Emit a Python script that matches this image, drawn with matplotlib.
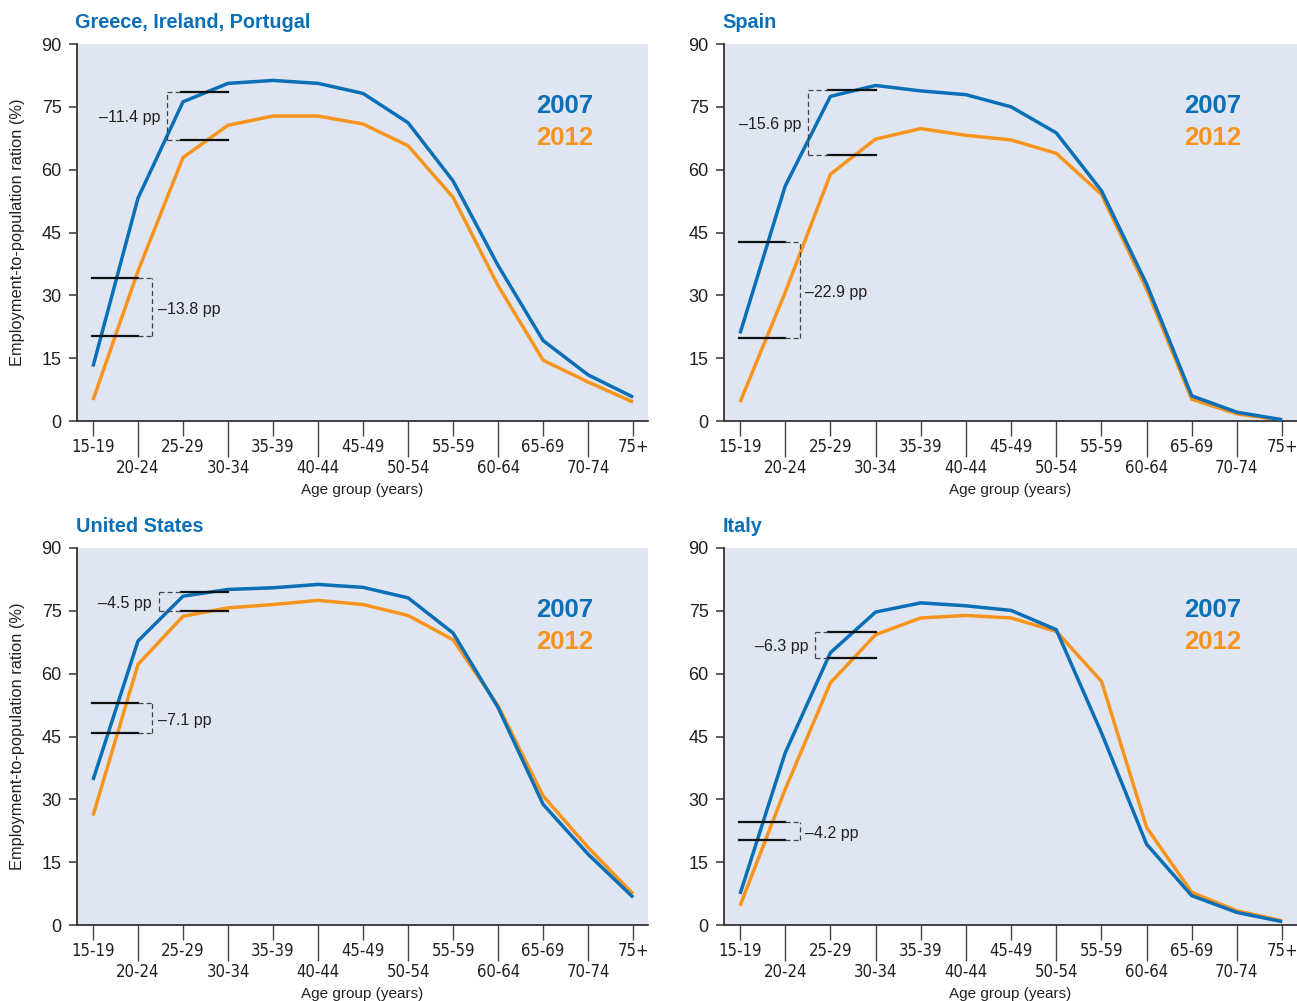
import matplotlib
matplotlib.use("Agg")
import matplotlib.pyplot as plt
from matplotlib import font_manager as fm

# ---------------- data ----------------
age_groups = ["15-19", "20-24", "25-29", "30-34", "35-39", "40-44", "45-49",
              "50-54", "55-59", "60-64", "65-69", "70-74", "75+"]

panel_titles = ["Greece, Ireland, Portugal", "Spain", "United States", "Italy"]

gip_2007 = [13.0, 53.2, 76.2, 80.6, 81.3, 80.6, 78.2, 71.2, 57.3, 37.1, 19.2, 11.0, 5.7]
gip_2012 = [5.0, 35.8, 62.9, 70.6, 72.8, 72.8, 70.9, 65.7, 53.4, 32.3, 14.5, 9.3, 4.5]

spain_2007 = [20.9, 56.1, 77.5, 80.1, 78.8, 77.9, 75.0, 68.8, 55.0, 32.7, 6.0, 2.1, 0.3]
spain_2012 = [4.5, 30.7, 58.9, 67.3, 69.8, 68.2, 67.1, 63.9, 54.1, 31.5, 5.2, 1.7, 0.2]

us_2007 = [34.6, 67.8, 78.5, 80.1, 80.5, 81.3, 80.6, 78.1, 69.7, 51.9, 28.8, 16.9, 6.6]
us_2012 = [26.1, 62.2, 73.7, 75.7, 76.5, 77.5, 76.5, 73.9, 68.1, 52.3, 30.8, 18.5, 7.4]

italy_2007 = [7.4, 41.1, 65.0, 74.7, 76.9, 76.2, 75.1, 70.5, 45.9, 19.3, 7.0, 3.0, 0.8]
italy_2012 = [4.6, 32.4, 57.8, 69.3, 73.3, 73.9, 73.3, 70.1, 58.2, 23.3, 7.8, 3.4, 1.0]

# youth (15-24) and prime-age (25-34) reference levels: [2007, 2012]
youth_levels = [[34.1, 20.3], [42.8, 19.9], [53.0, 45.9], [24.5, 20.3]]
youth_labels = ["\u201313.8 pp", "\u201322.9 pp", "\u20137.1 pp", "\u20134.2 pp"]
prime_levels = [[78.6, 67.2], [79.1, 63.5], [79.4, 74.9], [70.0, 63.7]]
prime_labels = ["\u201311.4 pp", "\u201315.6 pp", "\u20134.5 pp", "\u20136.3 pp"]

series_2007 = [gip_2007, spain_2007, us_2007, italy_2007]
series_2012 = [gip_2012, spain_2012, us_2012, italy_2012]
legend_labels = ["2007", "2012"]
y_ticks = [0, 15, 30, 45, 60, 75, 90]

# ---------------- style ----------------
BLUE = "#0a6fb6"
ORANGE = "#f7941d"
BG = "#dfe6f2"
TXT = "#231f20"

ttf = fm.fontManager.ttflist
names = {f.name for f in ttf}
REG = "Liberation Sans" if "Liberation Sans" in names else "DejaVu Sans"
if "Liberation Sans Narrow" in names:
    XT_FONT = dict(fontfamily="Liberation Sans Narrow", fontsize=12.4)
elif any(f.name == "DejaVu Sans" and str(f.stretch) in ("condensed", "semi-condensed")
         for f in ttf):
    XT_FONT = dict(fontfamily="DejaVu Sans", fontstretch="condensed", fontsize=12.0)
else:
    XT_FONT = dict(fontfamily=REG, fontsize=11)

W, H = 1297, 1001
fig = plt.figure(figsize=(W / 100, H / 100), dpi=100)
fig.patch.set_facecolor("white")

# pixel boxes: left, right, top, bottom
boxes = [(77, 648, 44, 421), (724, 1297, 44, 421),
         (77, 648, 548, 925), (724, 1297, 548, 925)]
title_pos = [(75, 22), (722, 22), (76, 527), (723, 527)]
prime_box_left = [1.64, 1.51, 1.47, 1.66]
prime_text_right = [1.49, 1.35, 1.30, 1.51]
youth_box_right = 1.32

x = list(range(len(age_groups)))

for i in range(4):
    l, r, t, b = boxes[i]
    ax = fig.add_axes([l / W, 1 - b / H, (r - l) / W, (b - t) / H])
    ax.set_facecolor(BG)
    ax.set_xlim(-0.355, 12.33)
    ax.set_ylim(0, 90)
    for s in ["top", "right"]:
        ax.spines[s].set_visible(False)
    for s in ["left", "bottom"]:
        ax.spines[s].set_color("#333333")
        ax.spines[s].set_linewidth(1.3)

    ax.plot(x, series_2007[i], color=BLUE, lw=2.5, solid_joinstyle="round",
            solid_capstyle="butt", zorder=3)
    ax.plot(x, series_2012[i], color=ORANGE, lw=2.5, solid_joinstyle="round",
            solid_capstyle="butt", zorder=2)

    # y axis ticks
    ax.set_yticks(y_ticks)
    ax.set_yticklabels([str(v) for v in y_ticks], fontfamily=REG, fontsize=13, color=TXT)
    ax.tick_params(axis="y", direction="out", length=6, width=1.1, color="#333333", pad=5)

    # x axis ticks: alternating short/long
    ax.set_xticks(x[0::2])
    ax.set_xticklabels(age_groups[0::2], color=TXT, **XT_FONT)
    ax.set_xticks(x[1::2], minor=True)
    ax.set_xticklabels(age_groups[1::2], minor=True, color=TXT, **XT_FONT)
    ax.tick_params(axis="x", which="major", direction="out", length=11, width=1.0,
                   color="#444444", pad=1.5)
    ax.tick_params(axis="x", which="minor", direction="out", length=26, width=1.0,
                   color="#444444", pad=1.5)

    ax.text(0.5, -0.183, "Age group (years)", transform=ax.transAxes, ha="center",
            va="center", fontfamily=REG, fontsize=11, color=TXT)

    # legend text
    ax.text(10.47, 75.3, legend_labels[0], color=BLUE, fontfamily=REG, fontweight="bold",
            fontsize=18.5, ha="center", va="center")
    ax.text(10.47, 67.6, legend_labels[1], color=ORANGE, fontfamily=REG, fontweight="bold",
            fontsize=18.5, ha="center", va="center")

    # youth annotation
    yh, yl = youth_levels[i]
    for v in (yh, yl):
        ax.plot([-0.03, 1.0], [v, v], color="#111111", lw=1.6, zorder=4)
        ax.plot([1.0, youth_box_right], [v, v], color="#444444", lw=0.9,
                ls=(0, (4, 2.5)), zorder=4)
    ax.plot([youth_box_right, youth_box_right], [yl, yh], color="#444444", lw=0.9,
            ls=(0, (4, 2.5)), zorder=4)
    ax.text(youth_box_right + 0.12, (yh + yl) / 2 - 0.6, youth_labels[i], ha="left",
            va="center", fontfamily=REG, fontsize=11.5, color=TXT)

    # prime annotation
    ph, pl = prime_levels[i]
    bl = prime_box_left[i]
    for v in (ph, pl):
        ax.plot([1.95, 3.0], [v, v], color="#111111", lw=1.6, zorder=4)
        ax.plot([bl, 1.95], [v, v], color="#444444", lw=0.9, ls=(0, (4, 2.5)), zorder=4)
    ax.plot([bl, bl], [pl, ph], color="#444444", lw=0.9, ls=(0, (4, 2.5)), zorder=4)
    ax.text(prime_text_right[i], (ph + pl) / 2 - 0.4, prime_labels[i], ha="right",
            va="center", fontfamily=REG, fontsize=11.5, color=TXT)

    tx, ty = title_pos[i]
    fig.text(tx / W, 1 - ty / H, panel_titles[i], color=BLUE, fontfamily=REG,
             fontweight="bold", fontsize=14.3, ha="left", va="center")

    if i % 2 == 0:
        fig.text(18 / W, 1 - ((t + b) / 2) / H, "Employment-to-population ration (%)",
                 rotation=90, ha="center", va="center", fontfamily=REG, fontsize=11.8,
                 color=TXT)

fig.savefig("out.png", dpi=100, facecolor="white")
